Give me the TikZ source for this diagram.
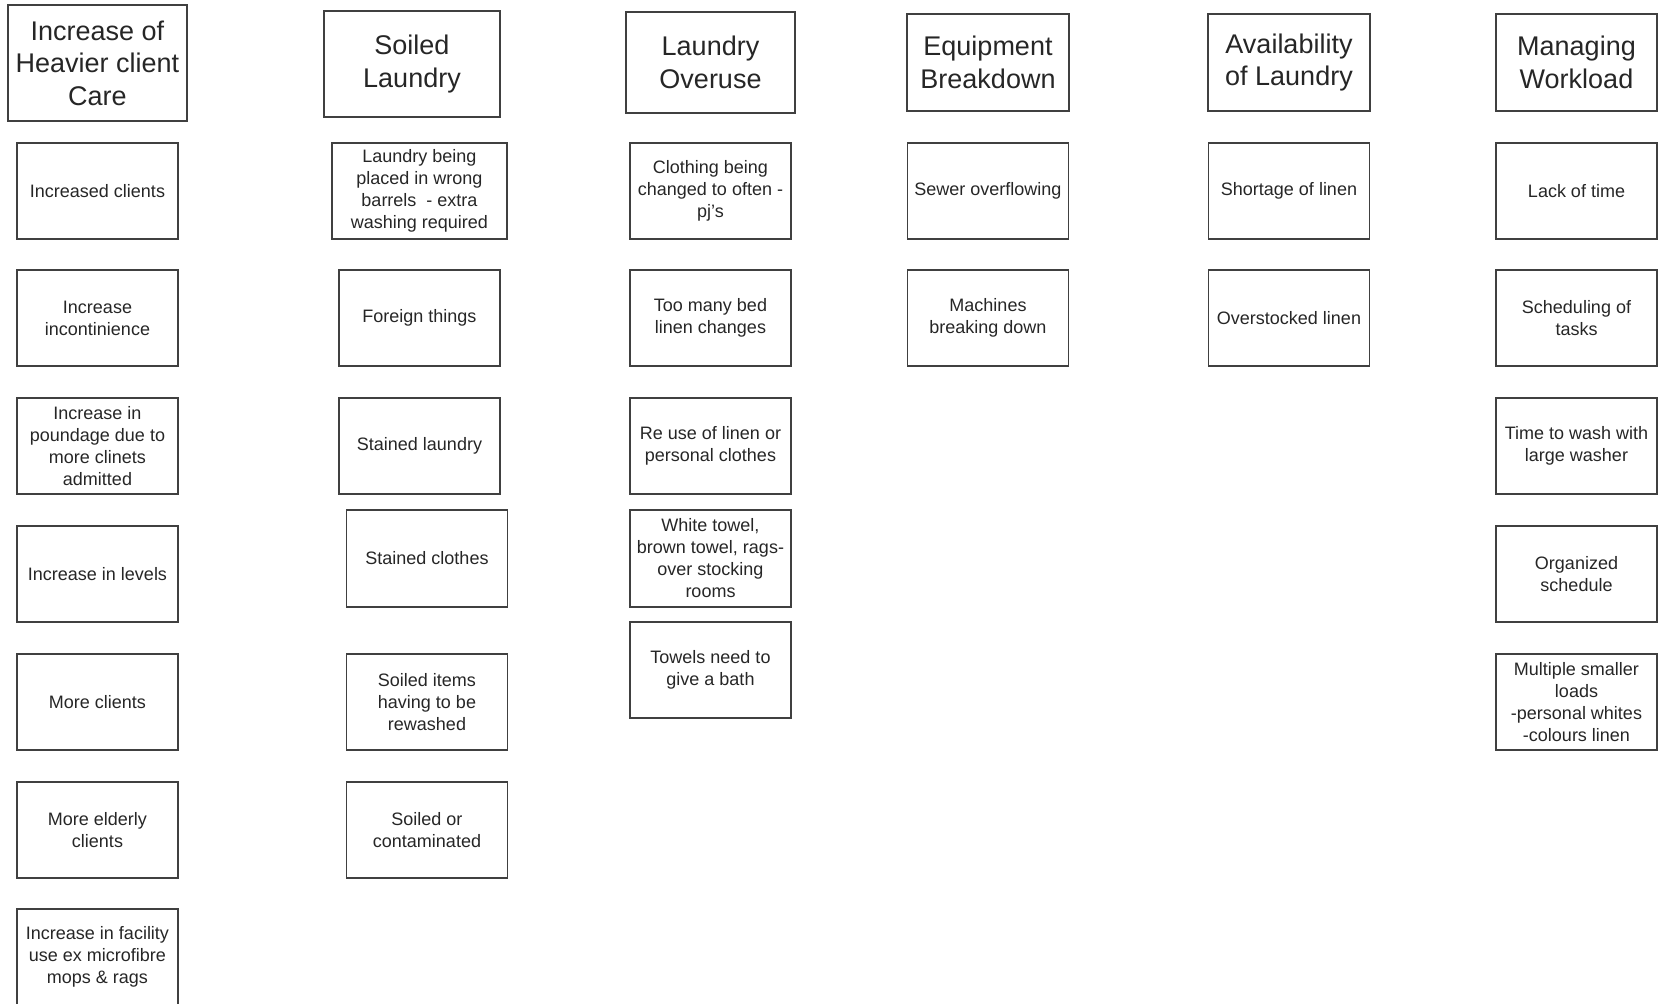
\documentclass[tikz,border=0pt]{standalone}
\usepackage{fontspec}
\setmainfont{Liberation Sans}
\begin{document}
\begin{tikzpicture}
    [x=0.5pt, y=-0.5pt,
     headbox/.style={draw=black!75, line width=0.75pt, align=center,
       font=\fontsize{13.5}{16.3}\selectfont, text=black!85, inner sep=0pt},
     box/.style={draw=black!75, line width=0.75pt, align=center,
       minimum width=80.5pt, minimum height=48pt, inner sep=0pt,
       font=\fontsize{9}{11}\selectfont, text=black!85}]
    \useasboundingbox (0,0) rectangle (1662,1003);
    % headings
    \node[headbox, minimum width=89.5pt, minimum height=58pt] (care) at (97.5,63)
      {Increase of\\Heavier client\\Care};
    \node[headbox, minimum width=88pt, minimum height=53pt] (soiled) at (412,64)
      {Soiled\\Laundry};
    \node[headbox, minimum width=84.5pt, minimum height=50.5pt] (overuse) at (710.5,62.5)
      {Laundry\\Overuse};
    \node[headbox, minimum width=81pt, minimum height=48.5pt] (equip) at (988,62.5)
      {Equipment\\Breakdown};
    \node[headbox, minimum width=81pt, minimum height=48.5pt] (avail) at (1289,62.5)
      {Availability\\of Laundry};
    \node[headbox, minimum width=80.5pt, minimum height=48.5pt] (workload) at (1576.5,62.5)
      {Managing\\Workload};
    % heavier client care
    \node[box] (care1) at (97.5,191) {Increased clients};
    \node[box] (care2) at (97.5,318) {Increase\\incontinience};
    \node[box] (care3) at (97.5,446) {Increase in\\poundage due to\\more clinets\\admitted};
    \node[box] (care4) at (97.5,574) {Increase in levels};
    \node[box] (care5) at (97.5,702) {More clients};
    \node[box] (care6) at (97.5,830) {More elderly\\clients};
    \node[box] (care7) at (97.5,957) {Increase in facility\\use ex microfibre\\mops \& rags};
    % soiled laundry
    \node[box, minimum width=87.5pt] (soiled1) at (419.5,191)
      {Laundry being\\placed in wrong\\barrels \ - extra\\washing required};
    \node[box] (soiled2) at (419.5,318) {Foreign things};
    \node[box] (soiled3) at (419.5,446) {Stained laundry};
    \node[box, minimum height=48.5pt] (soiled4) at (427,558.5) {Stained clothes};
    \node[box] (soiled5) at (427,702) {Soiled items\\having to be\\rewashed};
    \node[box] (soiled6) at (427,830) {Soiled or\\contaminated};
    % laundry overuse
    \node[box] (overuse1) at (710.5,191) {Clothing being\\changed to often -\\pj's};
    \node[box] (overuse2) at (710.5,318) {Too many bed\\linen changes};
    \node[box] (overuse3) at (710.5,446) {Re use of linen or\\personal clothes};
    \node[box, minimum height=48.5pt] (overuse4) at (710.5,558.5)
      {White towel,\\brown towel, rags-\\over stocking\\rooms};
    \node[box] (overuse5) at (710.5,670) {Towels need to\\give a bath};
    % equipment breakdown
    \node[box] (equip1) at (988,191) {Sewer overflowing};
    \node[box] (equip2) at (988,318) {Machines\\breaking down};
    % availability of laundry
    \node[box] (avail1) at (1289,191) {Shortage of linen};
    \node[box] (avail2) at (1289,318) {Overstocked linen};
    % managing workload
    \node[box] (workload1) at (1576.5,191) {Lack of time};
    \node[box] (workload2) at (1576.5,318) {Scheduling of\\tasks};
    \node[box] (workload3) at (1576.5,446) {Time to wash with\\large washer};
    \node[box] (workload4) at (1576.5,574) {Organized\\schedule};
    \node[box] (workload5) at (1576.5,702)
      {Multiple smaller\\loads\\-personal whites\\-colours linen};
\end{tikzpicture}
\end{document}
